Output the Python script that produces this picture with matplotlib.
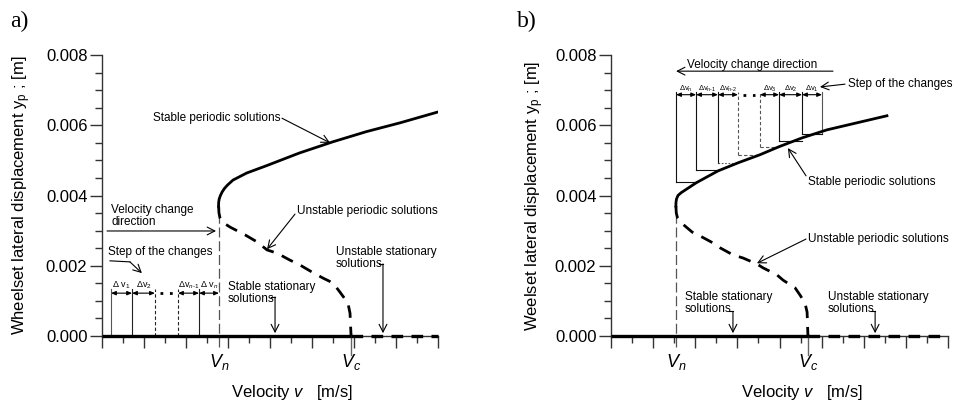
import matplotlib
matplotlib.use("Agg")
import matplotlib.pyplot as plt
from matplotlib.ticker import MultipleLocator, NullFormatter

plt.rcParams['font.family'] = ['Liberation Sans', 'DejaVu Sans']
plt.rcParams['mathtext.fontset'] = 'custom'
plt.rcParams['mathtext.rm'] = 'Liberation Sans'
plt.rcParams['mathtext.it'] = 'Liberation Sans:italic'
plt.rcParams['mathtext.bf'] = 'Liberation Sans:bold'

# ---------------- data (velocity in arbitrary units, displacement in m) ----------
# panel a
vn_a = 5.57
vc_a = 11.86
stable_a_v = [5.55, 5.555, 5.58, 5.64, 5.72, 5.83, 5.98, 6.24, 6.89, 7.84, 9.4, 11.0,
              12.6, 14.2, 15.95]
stable_a_y = [0.00370, 0.00380, 0.00390, 0.00400, 0.00410, 0.00420, 0.00430, 0.00444,
              0.00464, 0.00485, 0.00521, 0.00553, 0.00582, 0.00607, 0.00637]
unstable_a_v = [5.55, 5.57, 5.62, 5.71, 6.10, 6.81, 7.38, 7.86, 8.33, 8.95, 9.43, 10.0,
                10.52, 11.0, 11.33, 11.71, 11.81, 11.86]
unstable_a_y = [0.00370, 0.00350, 0.00336, 0.00325, 0.00310, 0.00288, 0.00268, 0.00245,
                0.00236, 0.00216, 0.00202, 0.00182, 0.00165, 0.00151, 0.00125, 0.00094,
                0.00065, 0.0]
steps_a_v = [0.43, 1.43, 2.52, 3.62, 4.62, 5.57]
steps_a_labels = [r'$\Delta$ v$_1$', r'$\Delta$v$_2$', '', r'$\Delta$v$_{n\text{-}1}$', r'$\Delta$ v$_n$']
steps_a_top = 0.00122

# panel b
vn_b = 3.09
vc_b = 9.35
stable_b_v = [3.08, 3.085, 3.11, 3.18, 3.33, 3.61, 4.04, 5.08, 6.03, 7.07, 7.98, 9.07,
              10.26, 13.1]
stable_b_y = [0.00370, 0.00380, 0.00390, 0.00400, 0.00408, 0.00419, 0.00436, 0.00470,
              0.00493, 0.00516, 0.00539, 0.00564, 0.00587, 0.00627]
unstable_b_v = [3.08, 3.10, 3.16, 3.28, 3.85, 4.13, 4.84, 5.18, 5.79, 6.27, 6.93, 7.22,
                7.88, 8.17, 8.74, 8.97, 9.21, 9.31, 9.35]
unstable_b_y = [0.00370, 0.00350, 0.00336, 0.00325, 0.00296, 0.00288, 0.00265, 0.00251,
                0.00231, 0.00222, 0.00205, 0.00194, 0.00174, 0.00159, 0.00137, 0.00117,
                0.00094, 0.00068, 0.0]
steps_b_v = [3.09, 4.04, 5.08, 6.03, 7.07, 7.98, 9.07, 10.02]
steps_b_level = [0.00439, 0.00473, 0.00493, 0.00516, 0.00538, 0.00556, 0.00575]
steps_b_vstyle = ['solid', 'solid', 'solid', 'dashed', 'dashed', 'solid', 'solid', 'solid']
steps_b_hstyle = ['solid', 'solid', 'dotted', 'dashed', 'dashed', 'solid', 'solid']
steps_b_labels = [r'$\Delta$v$_n$', r'$\Delta$v$_{n\text{-}1}$', r'$\Delta$v$_{n\text{-}2}$', '',
                  r'$\Delta$v$_3$', r'$\Delta$v$_2$', r'$\Delta$v$_1$']
steps_b_top = 0.00687

y_ticks = [0.000, 0.002, 0.004, 0.006, 0.008]
y_tick_labels = ['0.000', '0.002', '0.004', '0.006', '0.008']
x_min, x_max = 0, 16
y_min, y_max = 0.0, 0.008

# ---------------- figure ---------------------------------------------------------
fig = plt.figure(figsize=(9.56, 4.01), dpi=100)
ax_a = fig.add_axes([102 / 956, 65 / 401, 336 / 956, 281 / 401])
ax_b = fig.add_axes([611 / 956, 65 / 401, 337 / 956, 281 / 401])

AX_COL = '#333333'
TXT = 8.5


def style_axes(ax):
    ax.set_xlim(x_min, x_max)
    ax.set_ylim(y_min, y_max)
    for s in ['top', 'right']:
        ax.spines[s].set_visible(False)
    for s in ['left', 'bottom']:
        ax.spines[s].set_color(AX_COL)
        ax.spines[s].set_linewidth(1.0)
    ax.set_yticks(y_ticks)
    ax.set_yticklabels(y_tick_labels, fontsize=12)
    ax.yaxis.set_minor_locator(MultipleLocator(0.0005))
    ax.xaxis.set_major_locator(MultipleLocator(2))
    ax.xaxis.set_minor_locator(MultipleLocator(1))
    ax.xaxis.set_major_formatter(NullFormatter())
    ax.tick_params(axis='both', which='major', direction='out', length=8.5, width=1.0,
                   color=AX_COL, pad=2)
    ax.tick_params(axis='both', which='minor', direction='out', length=5, width=1.0,
                   color=AX_COL)


def arrow(ax, start, end, lw=0.8):
    ax.annotate('', xy=end, xytext=start,
                arrowprops=dict(arrowstyle='->,head_length=0.55,head_width=0.28',
                                color='black', lw=lw, shrinkA=0, shrinkB=0),
                annotation_clip=False)


def darrow(ax, x0, x1, y):
    ax.annotate('', xy=(x1, y), xytext=(x0, y),
                arrowprops=dict(arrowstyle='<|-|>,head_length=0.35,head_width=0.15',
                                color='black', lw=0.8, shrinkA=0, shrinkB=0,
                                mutation_scale=8),
                annotation_clip=False)


for ax in (ax_a, ax_b):
    style_axes(ax)

# ---------------- panel a ---------------------------------------------------------
ax = ax_a
ax.plot([x_min, vc_a], [0, 0], color='black', lw=2.4, solid_capstyle='butt', zorder=4, clip_on=False)
ax.plot([vc_a, x_max], [0, 0], color='black', lw=2.4, dashes=(3.5, 2.5), zorder=4, clip_on=False)
ax.plot(stable_a_v, stable_a_y, color='black', lw=2.0, zorder=4, solid_joinstyle='round')
ax.plot(unstable_a_v, unstable_a_y, color='black', lw=2.0, dashes=(4.5, 3.2), zorder=4)
ax.plot([vn_a, vn_a], [-0.00030, 0.0037], color='#555555', lw=0.9, dashes=(8, 3), clip_on=False)
ax.plot([vc_a, vc_a], [-0.00055, 0.00005], color='#666666', lw=1.0, clip_on=False)

# step bracket
for i, v in enumerate(steps_a_v[:-1]):
    ls = 'solid' if i in (0, 1, 4) else (0, (3, 2))
    col = '#555555' if i == 0 else '#222222'
    ax.plot([v, v], [0, steps_a_top + 0.00012], color=col, lw=0.8, linestyle=ls)
for i in range(len(steps_a_v) - 1):
    x0, x1 = steps_a_v[i], steps_a_v[i + 1]
    if steps_a_labels[i] == '':
        ax.plot([x0 + 0.25, x1 - 0.25], [steps_a_top, steps_a_top], color='black', lw=2.0,
                linestyle=(0, (1, 2.4)))
    else:
        darrow(ax, x0, x1, steps_a_top)
        ax.text((x0 + x1) / 2, steps_a_top + 0.00005, steps_a_labels[i], fontsize=6.5,
                ha='center', va='bottom')

ax.text(2.43, 0.0062, 'Stable periodic solutions', fontsize=TXT, va='center')
arrow(ax, (8.57, 0.0062), (10.86, 0.0055))
ax.text(9.29, 0.00355, 'Unstable periodic solutions', fontsize=TXT, va='center')
arrow(ax, (9.19, 0.00347), (7.86, 0.00247))
ax.text(0.43, 0.00342, 'Velocity change\ndirection', fontsize=TXT, va='center', linespacing=1.0)
arrow(ax, (0.24, 0.00299), (5.43, 0.00299))
ax.text(0.29, 0.00240, 'Step of the changes', fontsize=TXT, va='center')
ax.plot([0.38, 1.33], [0.00214, 0.00211], color='black', lw=0.8)
arrow(ax, (1.33, 0.00211), (1.90, 0.00179))
ax.text(6.0, 0.00122, 'Stable stationary\nsolutions', fontsize=TXT, va='center', linespacing=1.0)
ax.plot([8.05, 8.24], [0.00111, 0.00111], color='black', lw=0.8)
arrow(ax, (8.24, 0.00111), (8.24, 0.00008))
ax.text(11.14, 0.00222, 'Unstable stationary\nsolutions', fontsize=TXT, va='center', linespacing=1.0)
ax.plot([13.2, 13.38], [0.00205, 0.00205], color='black', lw=0.8)
arrow(ax, (13.38, 0.00205), (13.38, 0.00008))

ax.text(vn_a, -0.00045, r'$\mathit{V_n}$', fontsize=13, ha='center', va='top')
ax.text(vc_a, -0.00045, r'$\mathit{V_c}$', fontsize=13, ha='center', va='top')
ax.set_ylabel(r'Wheelset lateral displacement y$_\mathrm{p}$ ; [m]', fontsize=12, labelpad=9)

# ---------------- panel b ---------------------------------------------------------
ax = ax_b
ax.plot([x_min, vc_b], [0, 0], color='black', lw=2.4, solid_capstyle='butt', zorder=4, clip_on=False)
ax.plot([vc_b, x_max], [0, 0], color='black', lw=2.4, dashes=(3.5, 2.5), zorder=4, clip_on=False)
ax.plot(stable_b_v, stable_b_y, color='black', lw=2.0, zorder=4, solid_joinstyle='round')
ax.plot(unstable_b_v, unstable_b_y, color='black', lw=2.0, dashes=(4.5, 3.2), zorder=4)
ax.plot([vn_b, vn_b], [-0.00030, 0.0037], color='#555555', lw=0.9, dashes=(8, 3), clip_on=False)
ax.plot([vc_b, vc_b], [-0.00055, 0.00005], color='#666666', lw=1.0, clip_on=False)

ls_map = {'solid': '-', 'dashed': (0, (3, 2)), 'dotted': (0, (1.5, 1.5))}
for i, v in enumerate(steps_b_v):
    lvl = steps_b_level[min(i, len(steps_b_level) - 1)]
    col = '#555555' if steps_b_vstyle[i] != 'solid' or i == len(steps_b_v) - 1 else '#111111'
    ax.plot([v, v], [lvl, steps_b_top + 0.00008], color=col, lw=0.8, linestyle=ls_map[steps_b_vstyle[i]])
for i in range(len(steps_b_level)):
    x0, x1 = steps_b_v[i], steps_b_v[i + 1]
    col = '#111111' if steps_b_hstyle[i] == 'solid' else '#555555'
    ax.plot([x0, x1], [steps_b_level[i], steps_b_level[i]], color=col, lw=0.8,
            linestyle=ls_map[steps_b_hstyle[i]])
    if steps_b_labels[i] == '':
        ax.plot([x0 + 0.25, x1 - 0.25], [steps_b_top, steps_b_top], color='black', lw=2.0,
                linestyle=(0, (1, 2.4)))
    else:
        darrow(ax, x0, x1, steps_b_top)
        ax.text((x0 + x1) / 2, steps_b_top + 0.00003, steps_b_labels[i], fontsize=5.5,
                ha='center', va='bottom')

ax.text(3.61, 0.00771, 'Velocity change direction', fontsize=TXT, va='center')
arrow(ax, (10.54, 0.00754), (3.09, 0.00754))
ax.text(11.25, 0.00717, 'Step of the changes', fontsize=TXT, va='center')
arrow(ax, (11.11, 0.00717), (9.92, 0.00709))
ax.text(9.35, 0.00438, 'Stable periodic solutions', fontsize=TXT, va='center')
arrow(ax, (9.26, 0.00456), (8.40, 0.00535))
ax.text(9.35, 0.00276, 'Unstable periodic solutions', fontsize=TXT, va='center')
arrow(ax, (9.26, 0.00276), (6.93, 0.00207))
ax.text(3.51, 0.00094, 'Stable stationary\nsolutions', fontsize=TXT, va='center', linespacing=1.0)
ax.plot([5.6, 5.79], [0.00070, 0.00070], color='black', lw=0.8)
arrow(ax, (5.79, 0.00070), (5.79, 0.00008))
ax.text(10.3, 0.00094, 'Unstable stationary\nsolutions', fontsize=TXT, va='center', linespacing=1.0)
ax.plot([12.35, 12.54], [0.00070, 0.00070], color='black', lw=0.8)
arrow(ax, (12.54, 0.00070), (12.54, 0.00008))

ax.text(vn_b, -0.00045, r'$\mathit{V_n}$', fontsize=13, ha='center', va='top')
ax.text(vc_b, -0.00045, r'$\mathit{V_c}$', fontsize=13, ha='center', va='top')
ax.set_ylabel(r'Weelset lateral displacement y$_\mathrm{p}$ ; [m]', fontsize=12, labelpad=6)

# x labels and panel letters
fig.text(292 / 956, 1 - 392 / 401, r'Velocity $\mathit{v}$   [m/s]', fontsize=12, ha='center', va='center')
fig.text(802 / 956, 1 - 392 / 401, r'Velocity $\mathit{v}$   [m/s]', fontsize=12, ha='center', va='center')
fig.text(10 / 956, 1 - 21 / 401, 'a)', fontsize=17, family='Liberation Serif', va='center')
fig.text(517 / 956, 1 - 21 / 401, 'b)', fontsize=17, family='Liberation Serif', va='center')

fig.savefig('out.png', dpi=100)
